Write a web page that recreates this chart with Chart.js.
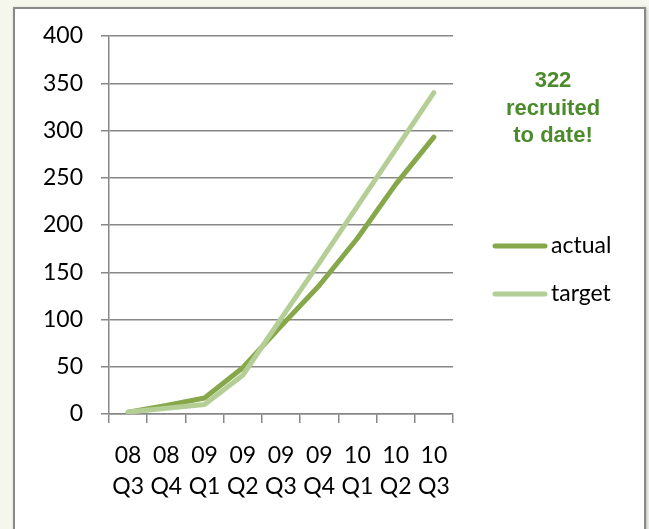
<!DOCTYPE html>
<html>
<head>
<meta charset="utf-8">
<script src="https://cdn.jsdelivr.net/npm/chart.js@4.4.0/dist/chart.umd.min.js"></script>
<style>
  html, body { margin: 0; padding: 0; background: #f5f7ed; overflow: hidden; }
  #frame {
    position: absolute; left: 13px; top: 7px; width: 629px; height: 540px;
    border: 2px solid #8a8a8a; background: #fff;
    box-shadow: 1px 1px 3px rgba(0,0,0,0.25);
  }
  #map { position: absolute; left: 0; top: 0; }
</style>
</head>
<body>
<div id="frame"></div>
<canvas id="map" width="649" height="529"></canvas>
<script>
// ----------------- DATA -----------------
const years = ['08', '08', '09', '09', '09', '09', '10', '10', '10'];
const quarters = ['Q3', 'Q4', 'Q1', 'Q2', 'Q3', 'Q4', 'Q1', 'Q2', 'Q3'];
const actual = [2, 9, 17, 49, 93, 136, 186, 243, 293];
const target = [2, 6, 10, 41, 101, 160, 220, 280, 340];
const noteLines = ['322', 'recruited', 'to date!'];

const labels = years.map((y, i) => [y, quarters[i]]);

const axisGrey = '#878787';
const tickFont = { family: 'Lato', size: 23, lineHeight: 1.35 };

// legend + note drawn beside the plot
const sidePlugin = {
    id: 'side',
    afterDraw(chart) {
        const c = chart.ctx;
        c.save();
        // note
        c.fillStyle = '#4b8b2b';
        c.font = 'bold 22px "Liberation Sans", Arial, sans-serif';
        c.textAlign = 'center';
        c.textBaseline = 'middle';
        noteLines.forEach((t, i) => c.fillText(t, 553, 81 + i * 27.5));
        // legend
        c.font = '23px Lato';
        c.textAlign = 'left';
        chart.data.datasets.forEach((ds, i) => {
            const y = 246 + i * 48;
            c.strokeStyle = ds.borderColor;
            c.lineWidth = 5;
            c.lineCap = 'round';
            c.beginPath();
            c.moveTo(495, y);
            c.lineTo(545, y);
            c.stroke();
            c.fillStyle = '#000';
            c.fillText(ds.label, 551, y);
        });
        c.restore();
    }
};

const ctx_map = document.getElementById('map').getContext('2d');
const chart = new Chart(ctx_map, {
    type: 'line',
    data: {
        labels: labels,
        datasets: [{
            label: 'actual',
            data: actual,
            borderColor: '#86a84a',
            borderWidth: 5,
            order: 1
        }, {
            label: 'target',
            data: target,
            borderColor: '#b5ce96',
            borderWidth: 5,
            order: 0
        }]
    },
    options: {
        responsive: false,
        animation: false,
        elements: {
            point: { radius: 0 },
            line: { tension: 0, borderCapStyle: 'round', borderJoinStyle: 'round' }
        },
        layout: { padding: { top: 36, right: 196, left: 0, bottom: 0 } },
        plugins: {
            legend: { display: false },
            tooltip: { enabled: false }
        },
        scales: {
            x: {
                offset: true,
                grid: {
                    offset: true,
                    drawOnChartArea: false,
                    drawTicks: true,
                    tickLength: 9,
                    color: axisGrey,
                    lineWidth: 1.5
                },
                border: { color: axisGrey, width: 1.5 },
                ticks: {
                    color: '#000',
                    font: tickFont,
                    padding: 17,
                    maxRotation: 0,
                    autoSkip: false
                },
                afterFit(s) { s.height = 115; }
            },
            y: {
                min: 0,
                max: 400,
                grid: {
                    color: axisGrey,
                    lineWidth: 1.5,
                    tickLength: 8
                },
                border: { color: axisGrey, width: 1.5 },
                ticks: {
                    stepSize: 50,
                    color: '#000',
                    font: tickFont,
                    padding: 18
                },
                afterFit(s) { s.width = 109; }
            }
        }
    },
    plugins: [sidePlugin]
});
</script>
</body>
</html>
